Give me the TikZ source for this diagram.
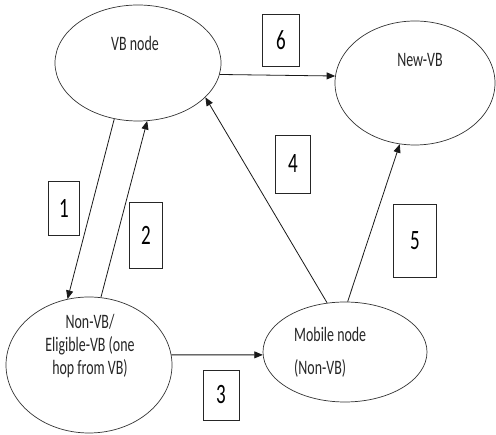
\documentclass[tikz,border=0pt]{standalone}
\usepackage{fontspec}
\setmainfont{Carlito}[FakeStretch=0.68]
\usetikzlibrary{arrows.meta,shapes.geometric}
\begin{document}
\begin{tikzpicture}[x=1pt,y=-1pt,
  state/.style={draw=black!80, line width=0.7pt, ellipse, inner sep=0pt},
  txt/.style={text=black!85, font=\fontsize{20.5}{23}\selectfont, inner sep=0pt},
  numbox/.style={draw=black!85, line width=0.7pt, inner sep=0pt, text=black, font=\fontsize{28}{30}\selectfont},
  conn/.style={draw=black!90, line width=0.8pt, -{Triangle[length=8.5pt,width=7pt]}}]
\useasboundingbox (0,0) rectangle (496,435);
% ellipses
\node[state, minimum width=166pt, minimum height=116pt] (vb) at (138,63) {};
\node[state, minimum width=160pt, minimum height=124pt] (nvb) at (415,83) {};
\node[state, minimum width=166pt, minimum height=136pt] (non) at (89,365) {};
\node[state, minimum width=164pt, minimum height=100pt] (mob) at (345,352) {};
% texts
\node[txt] (vbt) at (135,43) {VB node};
\node[txt] (nvbt) at (420,60) {New-VB};
\node[txt, align=center] (nont) at (90,346) {Non-VB/\\Eligible-VB (one\\hop from VB)};
\node[txt, align=left, anchor=north west] (mobt) at (294,327) {Mobile node\\[10pt](Non-VB)};
% number boxes
\node[numbox, minimum width=31pt, minimum height=54pt] (b1) at (64,208) {1};
\node[numbox, minimum width=33pt, minimum height=66pt] (b2) at (146,235) {2};
\node[numbox, minimum width=36pt, minimum height=50pt] (b3) at (221,395) {3};
\node[numbox, minimum width=35pt, minimum height=58pt] (b4) at (293,164) {4};
\node[numbox, minimum width=43pt, minimum height=73pt] (b5) at (415,241) {5};
\node[numbox, minimum width=37pt, minimum height=52pt] (b6) at (281,40) {6};
% connectors
\draw[conn] (vb.247.9) -- (non.108.7);
\draw[conn] (non.80.7) -- (vb.279.6);
\draw[conn] (non.7.5) -- (mob.182);
\draw[conn] (mob.110.8) -- (vb.333);
\draw[conn] (mob.87.7) -- (nvb.256);
\draw[conn] (vb.352.5) -- (nvb.175);
\end{tikzpicture}
\end{document}
